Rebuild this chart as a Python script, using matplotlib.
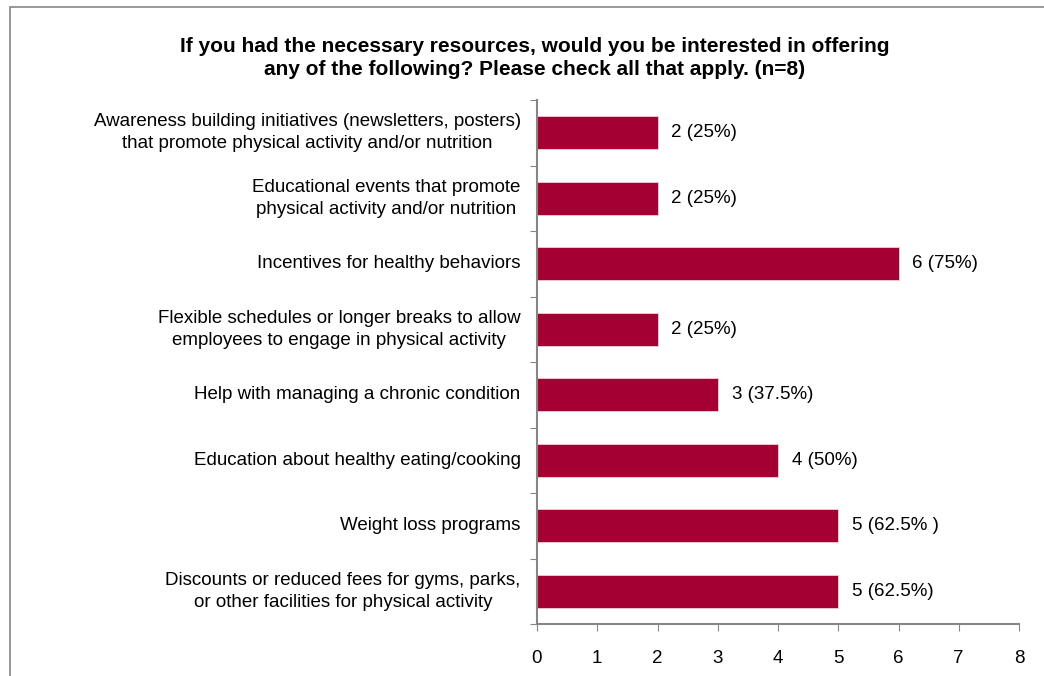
import matplotlib.pyplot as plt
from matplotlib.patches import Rectangle

plt.rcParams['font.family'] = ['Liberation Sans', 'DejaVu Sans']

categories = [
    "Awareness building initiatives (newsletters, posters)\nthat promote physical activity and/or nutrition",
    "Educational events that promote\nphysical activity and/or nutrition",
    "Incentives for healthy behaviors",
    "Flexible schedules or longer breaks to allow\nemployees to engage in physical activity",
    "Help with managing a chronic condition",
    "Education about healthy eating/cooking",
    "Weight loss programs",
    "Discounts or reduced fees for gyms, parks,\nor other facilities for physical activity",
]
counts = [2, 2, 6, 2, 3, 4, 5, 5]
value_labels = ["2 (25%)", "2 (25%)", "6 (75%)", "2 (25%)", "3 (37.5%)",
                "4 (50%)", "5 (62.5% )", "5 (62.5%)"]
title = ("If you had the necessary resources, would you be interested in offering\n"
         "any of the following? Please check all that apply. (n=8)")

bar_color = '#A50034'
axis_color = '#868686'
fs = 13.5

fig = plt.figure(figsize=(10.44, 6.76), dpi=100)
ax = fig.add_axes([537 / 1044, 1 - 624 / 676, (1019 - 537) / 1044, (624 - 100) / 676])

pos = list(range(len(categories)))
ax.barh(pos, counts, height=0.5, color=bar_color, edgecolor='#F2D0D8', linewidth=0.6)
for p, c, lab in zip(pos, counts, value_labels):
    ax.text(c + 0.23, p, lab, va='center', ha='left', fontsize=fs, color='black')

ax.set_xlim(0, 8)
ax.set_ylim(len(categories) - 0.5, -0.5)
ax.set_xticks(range(0, 9))
ax.tick_params(axis='x', labelsize=fs, length=5, color=axis_color, pad=14, direction='out')

# category labels sit between the tick marks
ax.set_yticks([p - 0.5 for p in pos] + [len(categories) - 0.5])
ax.set_yticklabels([])
ax.tick_params(axis='y', length=5, color=axis_color, direction='out')
for p, cat in zip(pos, categories):
    ax.text(-0.27, p, cat, ha='right', va='center', multialignment='center',
            fontsize=fs, color='black', linespacing=1.35)

for side in ['top', 'right']:
    ax.spines[side].set_visible(False)
for side in ['left', 'bottom']:
    ax.spines[side].set_color(axis_color)
    ax.spines[side].set_linewidth(1.5)

fig.text(535 / 1044, 1 - 58 / 676, title, ha='center', va='center',
         fontsize=15, fontweight='bold', linespacing=1.3)

# outer chart border (runs past the right/bottom edge)
fig.patches.append(Rectangle((10 / 1044, -0.1), 1.2, 1 - 7 / 676 + 0.1,
                             transform=fig.transFigure, fill=False,
                             edgecolor=axis_color, linewidth=1.2))

fig.savefig('out.png', dpi=100)
